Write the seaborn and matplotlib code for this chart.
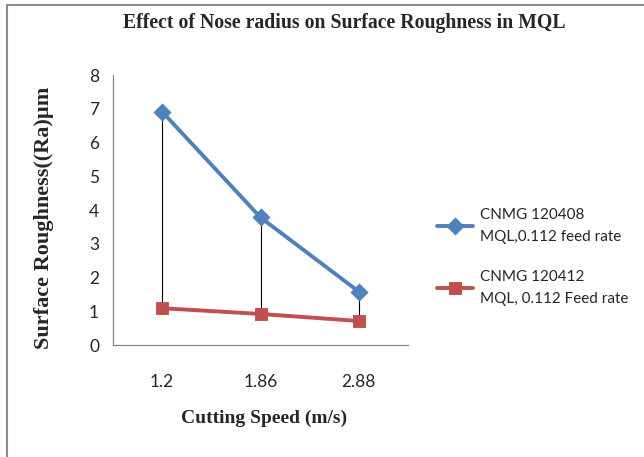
import numpy as np
import pandas as pd
import matplotlib
matplotlib.use('Agg')
import matplotlib.pyplot as plt
import seaborn as sns
from matplotlib.patches import Rectangle

speeds = ['1.2', '1.86', '2.88']
ra_408 = [6.91, 3.78, 1.58]
ra_412 = [1.09, 0.92, 0.71]
label_408 = 'CNMG 120408\nMQL,0.112 feed rate'
label_412 = 'CNMG 120412\nMQL, 0.112 Feed rate'

df = pd.DataFrame({
    'speed': speeds * 2,
    'ra': ra_408 + ra_412,
    'series': [label_408] * 3 + [label_412] * 3,
})

sns.set_style('white')
plt.rcParams['font.family'] = ['Lato', 'DejaVu Sans']

fig = plt.figure(figsize=(6.44, 4.57), dpi=100)
ax = fig.add_axes([113 / 644, 1 - 345 / 457, 295 / 644, 270 / 457])

# high-low lines between the two series
ax.vlines(range(len(speeds)), ra_412, ra_408, color='black', lw=0.8, zorder=1)

sns.pointplot(data=df, x='speed', y='ra', hue='series', order=speeds,
              palette=['#4F81BD', '#C0504D'], markers=['D', 's'],
              errorbar=None, ax=ax, linewidth=2.8, markersize=7.5)
for line in ax.lines:
    line.set_zorder(3)

ax.set_xlim(-0.5, 2.5)
ax.set_ylim(0, 8)
ax.set_yticks(range(0, 9))
sns.despine(ax=ax)
for s in ['left', 'bottom']:
    ax.spines[s].set_color('#868686')
    ax.spines[s].set_linewidth(0.9)
ax.tick_params(axis='y', length=4, color='#868686', labelsize=12.5, pad=6)
ax.tick_params(axis='x', length=0, labelsize=12.5, pad=21)

ax.set_xlabel('Cutting Speed (m/s)', family='Liberation Serif', weight='bold', fontsize=14)
ax.xaxis.set_label_coords(0.512, -0.24)
ax.set_ylabel('Surface Roughness((Ra)µm', family='Liberation Serif', weight='bold', fontsize=16)
ax.yaxis.set_label_coords(-0.2, 0.472)

fig.text(344 / 644, 1 - 23 / 457, 'Effect of Nose radius on Surface Roughness in MQL',
         family='Liberation Serif', weight='bold', fontsize=14.2, ha='center', va='center')

leg = ax.legend(loc='center left', bbox_to_anchor=(423 / 644, 1 - 257 / 457),
                bbox_transform=fig.transFigure, frameon=False, fontsize=11,
                handlelength=2.4, handletextpad=0.45, labelspacing=1.7)
for t in leg.get_texts():
    t.set_linespacing(1.75)

fig.patches.append(Rectangle((7 / 644, -0.1), 1.2, 1 - 5 / 457 + 0.1, transform=fig.transFigure,
                             fill=False, edgecolor='#8c8c8c', lw=1.5))

fig.savefig('out.png', dpi=100)
